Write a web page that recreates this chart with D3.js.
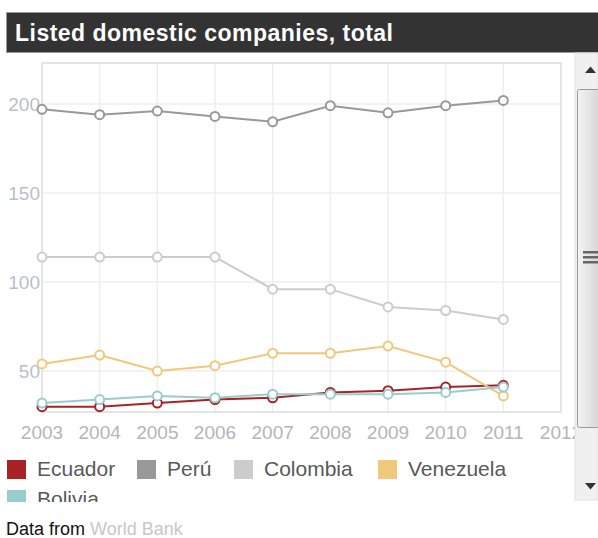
<html>
<head>
<style>
  body { margin: 0; background: #fff; }
  text { font-family: Arial, "Liberation Sans", sans-serif; }
</style>
</head>
<body>
<svg id="chart" width="598" height="538"></svg>
<script src="https://cdn.jsdelivr.net/npm/d3@7"></script>
<script>
// data
const years = [2003, 2004, 2005, 2006, 2007, 2008, 2009, 2010, 2011]
const xTicks = [2003, 2004, 2005, 2006, 2007, 2008, 2009, 2010, 2011, 2012]
const yTicks = [50, 100, 150, 200]
const countries = ["Ecuador", "Perú", "Colombia", "Venezuela", "Bolivia"]
const colors = ["#a82226", "#999999", "#cccccc", "#f0c87c", "#99cccc"]
const ecuador = [30, 30, 32, 34, 35, 38, 39, 41, 42]
const peru = [197, 194, 196, 193, 190, 199, 195, 199, 202]
const colombia = [114, 114, 114, 114, 96, 96, 86, 84, 79]
const venezuela = [54, 59, 50, 53, 60, 60, 64, 55, 36]
const bolivia = [32, 34, 36, 35, 37, 37, 37, 38, 41]
const series = [ecuador, peru, colombia, venezuela, bolivia]

let svg = d3.select("#chart")

// title bar
svg.append("rect").attr("x", 6.5).attr("y", 12.5).attr("width", 600).attr("height", 40)
  .attr("fill", "#333").attr("stroke", "#999")
svg.append("text").attr("x", 15).attr("y", 41).attr("fill", "#fff")
  .attr("font-size", 23).attr("font-weight", "bold").attr("textLength", 378)
  .text("Listed domestic companies, total")

let x = d3.scaleLinear().domain([2003, 2012]).range([42, 561])
let y = d3.scaleLinear().domain([27, 223]).range([412, 63])

let plot = svg.append("g")

// grid
plot.selectAll(".vgrid").data(xTicks.slice(1, -1)).enter().append("line")
  .attr("x1", d => x(d)).attr("x2", d => x(d)).attr("y1", 63).attr("y2", 412)
  .attr("stroke", "#eeeeee").attr("stroke-width", 1.5)
plot.selectAll(".hgrid").data(yTicks).enter().append("line")
  .attr("x1", 42).attr("x2", 561).attr("y1", d => y(d)).attr("y2", d => y(d))
  .attr("stroke", "#eeeeee").attr("stroke-width", 1.5)
plot.append("rect").attr("x", 42).attr("y", 63).attr("width", 519).attr("height", 349)
  .attr("fill", "none").attr("stroke", "#dddddd").attr("stroke-width", 1.5)

// tick labels
plot.selectAll(".ylab").data(yTicks).enter().append("text")
  .attr("x", 40).attr("y", d => y(d) + 7).attr("text-anchor", "end")
  .attr("font-size", 19).attr("fill", "#b7bfcc").text(d => d)
plot.selectAll(".xlab").data(xTicks).enter().append("text")
  .attr("x", d => x(d)).attr("y", 439).attr("text-anchor", "middle")
  .attr("font-size", 19).attr("fill", "#b5b5b8").text(d => d)

// lines
let line = d3.line().x((d, i) => x(years[i])).y(d => y(d))
series.forEach((s, k) => {
  plot.append("path").attr("d", line(s)).attr("fill", "none")
    .attr("stroke", colors[k]).attr("stroke-width", 2)
  plot.selectAll(".pt" + k).data(s).enter().append("circle")
    .attr("cx", (d, i) => x(years[i])).attr("cy", d => y(d)).attr("r", 4.5)
    .attr("fill", "#fff").attr("stroke", colors[k]).attr("stroke-width", 2)
})

// legend (clipped like the scrolling box)
svg.append("clipPath").attr("id", "legclip").append("rect")
  .attr("x", 0).attr("y", 440).attr("width", 575).attr("height", 62)
let legend = svg.append("g").attr("clip-path", "url(#legclip)")
let legX = [7, 137, 234, 378, 7]
let legY = [460, 460, 460, 460, 490]
countries.forEach((c, k) => {
  legend.append("rect").attr("x", legX[k]).attr("y", legY[k]).attr("width", 19).attr("height", 19)
    .attr("fill", colors[k])
  legend.append("text").attr("x", legX[k] + 30).attr("y", legY[k] + 16)
    .attr("font-size", 21).attr("fill", "#595959").text(c)
})

// scrollbar
let sb = svg.append("g")
sb.append("rect").attr("x", 575).attr("y", 53).attr("width", 23).attr("height", 447)
  .attr("fill", "#f0f0f0").attr("stroke", "#e2e2e2")
let grad = svg.append("defs").append("linearGradient").attr("id", "thumb")
grad.append("stop").attr("offset", "0%").attr("stop-color", "#f4f4f4")
grad.append("stop").attr("offset", "100%").attr("stop-color", "#d6d6d6")
sb.append("rect").attr("x", 577.5).attr("y", 89.5).attr("width", 22).attr("height", 338)
  .attr("rx", 2).attr("fill", "url(#thumb)").attr("stroke", "#9a9a9a")
;[251, 256, 261].forEach(gy => {
  sb.append("rect").attr("x", 583).attr("y", gy).attr("width", 15).attr("height", 2.5).attr("fill", "#666")
})
sb.append("path").attr("d", "M585,73 L596,73 L590.5,66.5 Z").attr("fill", "#333")
sb.append("path").attr("d", "M585,483 L596,483 L590.5,489.5 Z").attr("fill", "#333")

// source
let src = svg.append("text").attr("x", 6).attr("y", 535).attr("font-size", 18)
src.append("tspan").attr("fill", "#111").text("Data from ")
src.append("tspan").attr("fill", "#c8c8c8").text("World Bank")
</script>
</body>
</html>
